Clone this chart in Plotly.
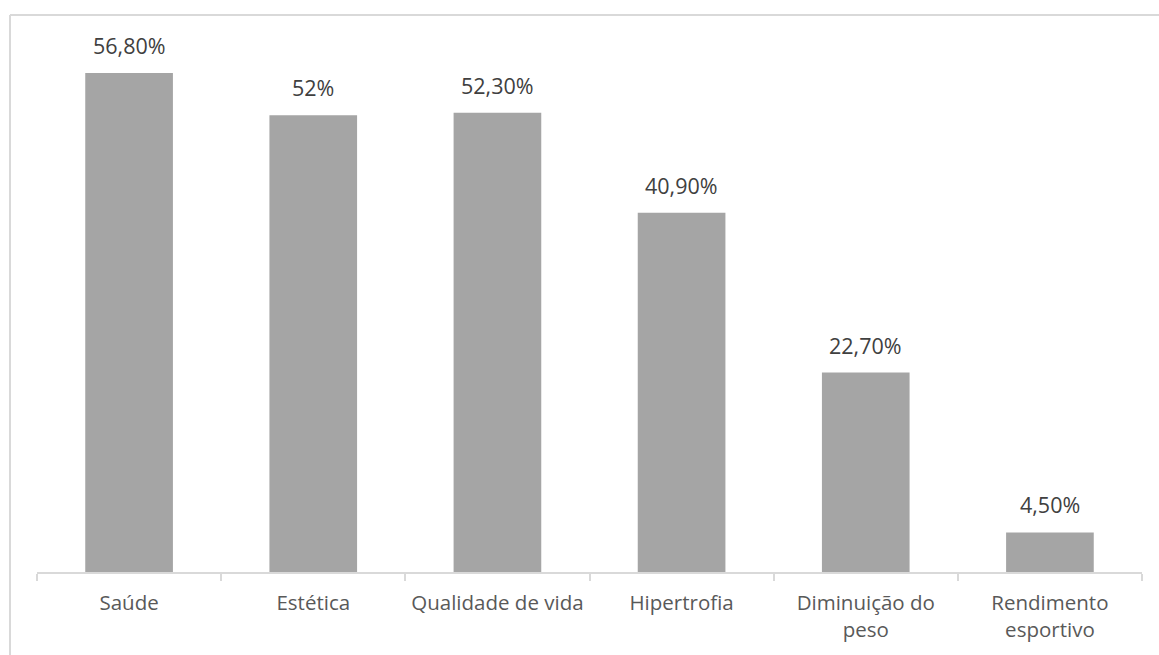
import plotly.graph_objects as go

categories = ["Saúde", "Estética", "Qualidade de vida", "Hipertrofia", "Diminuição do<br>peso", "Rendimento<br>esportivo"]
values = [56.8, 52.0, 52.3, 40.9, 22.7, 4.5]
value_labels = ["56,80%", "52%", "52,30%", "40,90%", "22,70%", "4,50%"]

W, H = 1159, 655
ml, mr, mt, mb = 37, 17, 45, 83

fig = go.Figure()
fig.add_trace(go.Bar(
    x=categories, y=values,
    marker=dict(color="#A5A5A5", line=dict(width=0)),
    hoverinfo="skip",
))

for c, v, t in zip(categories, values, value_labels):
    fig.add_annotation(x=c, y=v, text=t, showarrow=False, yanchor="bottom",
                       yshift=11, font=dict(family="Open Sans", size=21.5, color="#404040"))

pw = W - ml - mr
ph = H - mt - mb
left_px, top_px = 10, 15
x_left = (left_px - ml) / pw
y_top = 1 + (mt - top_px) / ph
fig.add_shape(type="line", xref="paper", yref="paper", x0=x_left, x1=1.2, y0=y_top, y1=y_top,
              line=dict(color="#D9D9D9", width=2))
fig.add_shape(type="line", xref="paper", yref="paper", x0=x_left, x1=x_left, y0=y_top, y1=-0.3,
              line=dict(color="#D9D9D9", width=2))

fig.update_layout(
    width=W, height=H,
    margin=dict(l=ml, r=mr, t=mt, b=mb),
    paper_bgcolor="white", plot_bgcolor="white",
    bargap=0.524,
    showlegend=False,
    font=dict(family="Open Sans", size=21, color="#595959"),
    xaxis=dict(
        showline=True, linecolor="#D9D9D9", linewidth=1.5,
        ticks="outside", tickson="boundaries", ticklen=7, tickcolor="#D9D9D9", tickwidth=1.5,
        tickfont=dict(family="Open Sans", size=20.5, color="#595959"),
        tickangle=0, automargin=False,
        ticklabelstandoff=12,
        showgrid=False, zeroline=False,
    ),
    yaxis=dict(range=[0, 60], visible=False, showgrid=False, zeroline=False),
)

fig.write_html("out.html")
